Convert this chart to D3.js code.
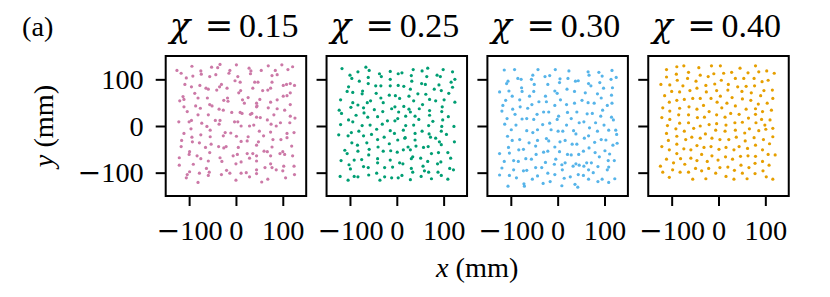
<!DOCTYPE html>
<html>
<head>
<meta charset="utf-8">
<script src="https://cdn.jsdelivr.net/npm/d3@7"></script>
<style>
  html, body { margin: 0; padding: 0; background: #fff; }
  svg { display: block; font-family: "Liberation Serif", "DejaVu Serif", serif; }
</style>
</head>
<body>
<div id="chart"></div>
<script>
// Point positions (mm)
const pts015 = [
  [-34,132],[1,131],[-94,128],[-52,126],[-39,125],[69,129],[98,131],[121,127],[-126,119],[-117,113],[-75,118],[-74,111],
  [-13,119],[-15,113],[28,124],[32,118],[31,112],[54,119],[84,119],[111,121],[-92,107],[-106,103],[-56,106],[-43,110],
  [4,106],[-2,97],[9,94],[40,94],[47,94],[77,108],[88,110],[77,94],[-109,89],[-95,84],[-77,87],[-64,81],[-59,79],[-41,77],
  [-31,89],[-35,84],[-19,81],[10,76],[6,71],[36,81],[57,76],[68,77],[74,81],[101,87],[108,89],[116,91],[125,87],[-88,70],
  [-113,63],[-111,57],[-120,54],[-81,60],[-61,60],[-18,60],[-17,53],[-26,55],[14,56],[18,49],[26,61],[51,57],[44,49],
  [45,43],[74,51],[88,56],[101,64],[109,65],[116,71],[-111,41],[-104,31],[-86,43],[-76,38],[-56,46],[-51,43],[-36,36],
  [-27,34],[-9,29],[9,29],[13,27],[34,27],[44,41],[69,39],[88,37],[116,46],[104,34],[-81,24],[-59,24],[-44,12],[-34,12],
  [-3,9],[4,9],[31,25],[44,19],[52,18],[81,24],[116,21],[126,17],[67,13],[95,7],[115,7],[-95,12],[-100,9],[-122,9],
  [-73,6],[-36,4],[11,0],[29,0],[38,2],[75,4],[86,0],[-62,-1],
  [-96,-6],[-55,-9],[-111,-16],[-23,-14],[-27,-21],[-11,-15],[1,-22],[50,-11],[74,-13],[59,-21],[109,-16],[124,-14],
  [109,-25],[-75,-19],[-94,-24],[-55,-23],[-116,-31],[-93,-34],[-78,-36],[-53,-39],[11,-33],[24,-32],[26,-23],[48,-34],
  [79,-29],[96,-29],[-117,-44],[-65,-46],[-37,-44],[-26,-47],[-21,-44],[5,-46],[44,-41],[77,-45],[119,-43],[-99,-55],
  [-100,-61],[-56,-57],[24,-59],[36,-59],[60,-54],[67,-55],[94,-59],[100,-55],[104,-61],[-121,-68],[-83,-64],[-75,-70],
  [-59,-75],[-34,-68],[-30,-76],[-6,-64],[3,-61],[11,-77],[0,-81],[29,-69],[44,-64],[44,-75],[74,-64],[121,-64],
  [-91,-82],[-121,-84],[-63,-91],[-57,-99],[-78,-101],[-99,-98],[-104,-104],[-106,-111],[-59,-106],[-20,-95],[-31,-104],
  [-13,-101],[11,-101],[22,-100],[29,-109],[44,-94],[44,-102],[62,-89],[74,-81],[77,-89],[86,-94],[102,-86],[100,-96],
  [124,-86],[125,-104],[106,-111],[68,-114],[55,-120],[0,-116],[-81,-121]
];

const pts025 = [
  [-117,123],[-66,126],[-59,119],[-83,116],[-100,109],[-96,102],[-37,112],[-33,106],[-14,117],[3,112],[11,114],[35,121],
  [54,118],[66,124],[99,121],[119,116],[31,108],[64,106],[86,109],[93,106],[124,100],[116,94],[-61,104],[-14,100],
  [-80,96],[-61,91],[32,96],[53,91],[61,89],[90,88],[-103,84],[-106,74],[-94,72],[-73,75],[-74,69],[-45,86],[-34,86],
  [-14,86],[3,87],[15,85],[29,79],[80,79],[95,76],[119,83],[-44,70],[-16,66],[-3,65],[-34,60],[6,59],[26,64],[45,69],
  [62,68],[111,70],[-120,56],[-94,50],[-83,45],[-63,50],[-56,54],[-71,39],[-98,40],[-48,35],[-29,50],[-11,37],[-4,41],
  [15,42],[26,36],[36,54],[48,37],[55,46],[70,57],[83,54],[101,56],[124,51],[-123,34],[-118,27],[-87,23],[-70,28],
  [-62,19],[-41,20],[-30,31],[4,30],[19,21],[29,30],[39,21],[47,14],[70,33],[70,23],[97,41],[96,31],[110,20],[-103,13],
  [-94,9],[-74,1],[-57,2],[-31,4],[-20,11],[2,16],[-4,11],[19,1],[36,2],[68,1],[77,10],[98,13],[122,-1],[-120,3],
  [-124,-19],[-104,-21],[-97,-14],[-81,-11],[-71,-21],[-54,-18],[-43,-7],[-14,-10],[-5,-16],[14,-9],[18,-25],[39,-16],
  [54,-11],[69,-17],[72,-24],[95,-11],[106,-18],[96,-1],[-96,-36],[-84,-41],[-64,-36],[-41,-29],[-27,-24],[-16,-38],
  [2,-30],[17,-26],[39,-30],[41,-43],[24,-45],[14,-51],[57,-46],[67,-44],[83,-26],[91,-34],[95,-40],[123,-34],
  [-111,-52],[-106,-59],[-83,-54],[-59,-50],[-60,-62],[-40,-45],[-29,-54],[-13,-53],[1,-56],[29,-51],[74,-59],[89,-57],
  [109,-57],[-119,-74],[-91,-73],[-75,-72],[-41,-70],[-41,-79],[-14,-73],[6,-79],[13,-81],[31,-70],[34,-66],[51,-69],
  [66,-76],[87,-81],[94,-77],[115,-69],[-102,-83],[-99,-92],[-71,-87],[-61,-89],[-26,-89],[-9,-88],[31,-91],[34,-99],
  [56,-86],[59,-96],[88,-99],[95,-106],[113,-91],[121,-94],[-121,-108],[-104,-116],[-91,-108],[-83,-109],[-60,-105],
  [-43,-101],[-36,-116],[-26,-109],[-11,-111],[3,-111],[11,-106],[29,-115],[52,-108],[68,-99],[74,-113],[109,-114]
];

const pts030 = [
  [-114,120],[-92,121],[-42,121],[-5,121],[24,118],[65,116],[67,109],[88,115],[116,119],[95,107],[125,104],[114,100],
  [-53,109],[-56,100],[-85,102],[-78,100],[-106,96],[-109,91],[-27,106],[-17,108],[5,101],[4,93],[22,102],[38,96],
  [44,97],[66,91],[71,86],[90,93],[98,81],[117,82],[-50,89],[-21,89],[-77,82],[-124,73],[-104,75],[-76,74],[-51,74],
  [-6,75],[-1,70],[20,79],[36,74],[59,71],[85,69],[93,60],[115,66],[-97,64],[-111,55],[-81,56],[-60,64],[-26,64],
  [-40,52],[-24,52],[6,56],[-6,44],[19,46],[36,49],[52,55],[65,50],[78,49],[106,44],[116,49],[-117,44],[-96,36],
  [-80,41],[-64,38],[-55,46],[-119,32],[-91,25],[-44,25],[-30,30],[-19,30],[2,21],[21,29],[41,30],[63,26],[74,27],
  [96,34],[92,21],[115,19],[119,13],[-108,16],[-76,15],[-66,16],[-51,14],[-32,3],[-17,6],[-1,14],[29,16],[46,7],[56,9],
  [81,7],[99,2],[-113,4],[-89,2],[19,2],
  [-99,-8],[-66,-10],[-53,-14],[-43,-8],[-14,-8],[1,-11],[11,-11],[34,-10],[39,-17],[68,-4],[85,-11],[109,-9],[124,-9],
  [126,-18],[-107,-22],[-97,-31],[-81,-29],[-61,-36],[-43,-31],[-24,-27],[-19,-32],[5,-34],[16,-31],[31,-39],[41,-39],
  [57,-26],[66,-21],[79,-35],[93,-29],[103,-30],[127,-37],[118,-41],[-105,-46],[-124,-59],[-103,-58],[-83,-51],
  [-73,-50],[-47,-43],[-46,-61],[-30,-56],[-21,-54],[-6,-45],[4,-55],[21,-61],[29,-62],[45,-61],[55,-54],[67,-47],
  [80,-57],[89,-66],[101,-53],[111,-60],[-114,-76],[-94,-74],[-84,-76],[-68,-70],[-56,-71],[-26,-78],[-4,-71],[9,-83],
  [16,-79],[39,-81],[46,-84],[62,-79],[72,-79],[86,-87],[108,-74],[121,-74],[106,-94],[-119,-90],[-94,-94],[-73,-96],
  [-66,-95],[-47,-89],[-34,-89],[-7,-82],[10,-94],[33,-86],[56,-86],[66,-94],[76,-100],[109,-88],[-124,-105],
  [-103,-106],[-88,-111],[-54,-114],[-43,-107],[-21,-101],[-6,-104],[14,-112],[27,-109],[44,-104],[66,-114],[55,-106],
  [86,-119],[95,-114],[109,-121],[122,-113],[-106,-129],[-72,-124],[-71,-129],[-31,-123],[-16,-119],[9,-128],
  [37,-125],[43,-131]
];

const pts040 = [
  [-74,129],[-89,127],[-111,121],[-42,125],[-15,129],[4,129],[46,124],[79,129],[103,118],[86,116],[119,113],[63,114],
  [28,115],[11,113],[-10,112],[-39,109],[-64,115],[-90,111],[-111,105],[-88,98],[-66,102],[-48,96],[-22,106],[36,102],
  [54,102],[76,102],[106,98],[93,95],[-123,89],[-104,88],[-76,86],[-46,81],[-27,87],[-8,90],[6,98],[21,89],[41,84],
  [59,85],[77,86],[97,76],[115,77],[-100,74],[-83,73],[-61,76],[-26,73],[-4,76],[20,77],[50,74],[70,71],[90,65],
  [-115,65],[-89,55],[-73,57],[-55,59],[-39,59],[-16,59],[4,64],[29,61],[51,58],[69,55],[85,47],[104,49],[116,59],
  [-105,51],[-83,38],[-63,41],[-46,36],[-32,44],[-20,31],[-3,51],[7,39],[18,49],[36,43],[59,36],[79,37],[94,31],
  [113,34],[-119,39],[-104,32],[-85,24],[-64,24],[-45,18],[-30,19],[-4,24],[14,19],[26,27],[44,25],[64,17],[79,25],
  [92,14],[110,13],[-121,18],[-104,14],[-83,6],[-64,7],[-39,0],[-20,3],[-4,5],[16,2],[35,7],[51,8],[80,7],[99,2],
  [-109,1],
  [-91,-6],[-73,-11],[-53,-5],[-6,-9],[14,-11],[36,-9],[56,-15],[66,-6],[86,-10],[101,-7],[116,-5],[-111,-16],
  [-89,-22],[-70,-29],[-57,-24],[-39,-26],[-28,-17],[-14,-26],[3,-29],[22,-29],[38,-24],[57,-32],[76,-25],[96,-29],
  [116,-23],[-107,-31],[-121,-44],[-105,-51],[-89,-39],[-74,-49],[-59,-51],[-46,-42],[-31,-46],[-16,-44],[1,-50],
  [16,-46],[33,-51],[44,-44],[62,-48],[79,-41],[94,-51],[109,-38],[-89,-59],[-111,-71],[-96,-79],[-81,-70],[-59,-69],
  [-46,-74],[-36,-61],[-24,-76],[-14,-64],[-1,-73],[15,-66],[30,-71],[47,-65],[63,-64],[79,-65],[94,-76],[106,-61],
  [121,-62],[-124,-86],[-119,-99],[-98,-94],[-82,-99],[-64,-99],[-72,-82],[-49,-91],[-36,-96],[-21,-91],[-6,-101],
  [3,-89],[20,-88],[34,-95],[48,-84],[51,-101],[65,-89],[78,-80],[78,-102],[95,-96],[108,-84],[102,-109],[116,-114],
  [-105,-110],[-55,-114],[-27,-113],[16,-108],[33,-114],[61,-113]
];

const panelPoints = [pts015, pts025, pts030, pts040];
const chiLabels = ['0.15', '0.25', '0.30', '0.40'];
const pointColors = ['#CC79A7', '#009E73', '#56B4E9', '#E69F00'];
const tickValues = [-100, 0, 100];
const axisDomain = [-150, 150];

const W = 830, H = 297;
const left0 = 165.7, step = 160.85, panelTop = 56;
const panelW = 140.5, panelH = 140;
const tickFont = 28.3, titleFont = 34;
const symbolFont = '"DejaVu Serif", serif';

const svg = d3.select('#chart').append('svg')
    .attr('width', W)
    .attr('height', H);

const x = d3.scaleLinear().domain(axisDomain).range([0, panelW]);
const y = d3.scaleLinear().domain(axisDomain).range([panelH, 0]);

function styleAxis(g) {
    g.attr('font-size', tickFont).attr('font-family', null);
    g.select('.domain').remove();
    g.selectAll('.tick line').attr('stroke', '#000').attr('stroke-width', 2);
    g.selectAll('.tick text').attr('fill', '#000');
}

// wide minus like the TeX one
function tickLabels(g) {
    g.selectAll('.tick text').each(function (d) {
        const t = d3.select(this);
        if (t.text() === '') return;
        t.text(null);
        if (d < 0) t.append('tspan').attr('font-family', symbolFont).text('\u2212');
        t.append('tspan').text(String(Math.abs(d)));
    });
}

panelPoints.forEach((pts, i) => {
    const g = svg.append('g')
        .attr('transform', `translate(${left0 + i * step},${panelTop})`);

    g.append('g')
        .selectAll('circle')
        .data(pts)
        .join('circle')
        .attr('cx', d => x(d[0]))
        .attr('cy', d => y(d[1]))
        .attr('r', 1.6)
        .attr('fill', pointColors[i]);

    g.append('g')
        .attr('transform', `translate(0,${panelH})`)
        .call(d3.axisBottom(x).tickValues(tickValues).tickSize(10).tickPadding(14))
        .call(styleAxis)
        .call(tickLabels);

    g.append('g')
        .call(d3.axisLeft(y).tickValues(tickValues).tickSize(10).tickPadding(12)
            .tickFormat(i === 0 ? null : () => ''))
        .call(styleAxis)
        .call(tickLabels);

    g.append('rect')
        .attr('width', panelW)
        .attr('height', panelH)
        .attr('fill', 'none')
        .attr('stroke', '#000')
        .attr('stroke-width', 2);

    // title: chi = value
    const cx = panelW / 2;
    const t = g.append('g').attr('font-size', titleFont).attr('fill', '#000');
    t.append('text').attr('x', cx - 56).attr('y', -19)
        .attr('text-anchor', 'middle').attr('font-style', 'italic')
        .attr('font-family', symbolFont).text('\u03c7');
    t.append('text').attr('x', cx - 17).attr('y', -19)
        .attr('text-anchor', 'middle').attr('font-family', symbolFont).text('=');
    t.append('text').attr('x', cx + 3).attr('y', -19)
        .attr('text-anchor', 'start').text(chiLabels[i]);
});

// panel tag
svg.append('text')
    .attr('x', 22).attr('y', 36)
    .attr('font-size', tickFont)
    .text('(a)');

// y label
const yl = svg.append('text')
    .attr('transform', 'translate(53,126) rotate(-90)')
    .attr('text-anchor', 'middle')
    .attr('font-size', tickFont);
yl.append('tspan').attr('font-style', 'italic').text('y');
yl.append('tspan').text('\u00a0(mm)');

// x label
const xl = svg.append('text')
    .attr('x', left0 + (3 * step + panelW) / 2).attr('y', 277)
    .attr('text-anchor', 'middle')
    .attr('font-size', tickFont);
xl.append('tspan').attr('font-style', 'italic').text('x');
xl.append('tspan').text('\u00a0(mm)');
</script>
</body>
</html>
